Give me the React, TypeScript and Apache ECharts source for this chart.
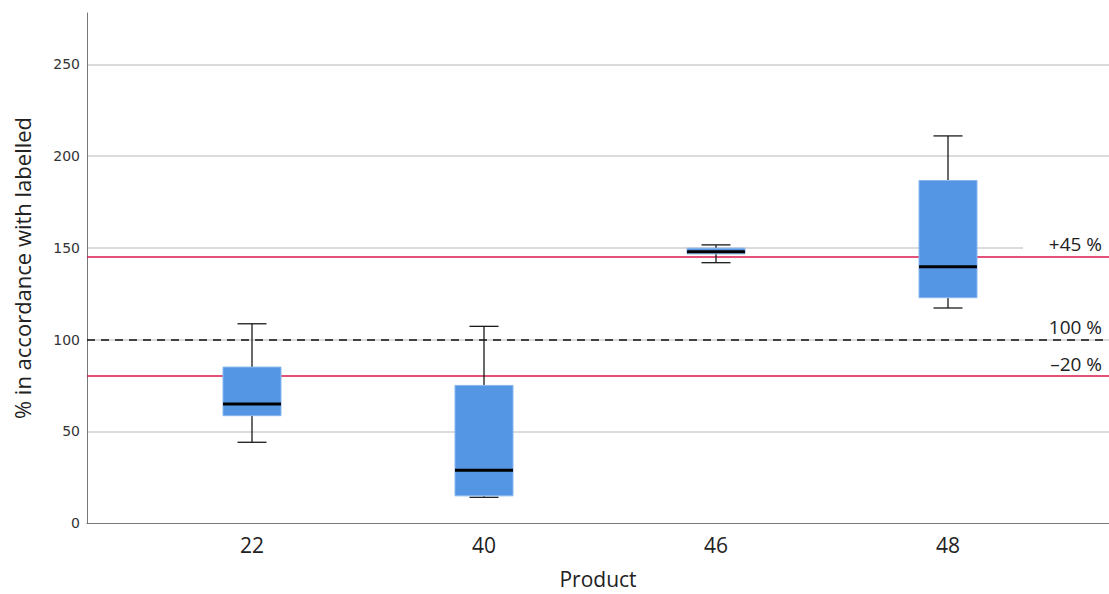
import React, { useEffect, useRef } from "react";
import * as echarts from "echarts";

const categories = ["22", "40", "46", "48"];
// [min, Q1, median, Q3, max]
const boxValues = [
  [44, 58.5, 64.8, 85, 108.6],
  [14, 14.8, 28.8, 75, 107.2],
  [141.9, 146.7, 147.8, 149.8, 151.6],
  [117.2, 122.8, 139.7, 186.7, 211],
];
const yTicks = [0, 50, 100, 150, 200, 250];
const refLines = [
  { value: 145, label: "+45 %", kind: "red" },
  { value: 100, label: "100 %", kind: "dash" },
  { value: 80, label: "–20 %", kind: "red" },
];

export default function App() {
  const ref = useRef<HTMLDivElement>(null);
  useEffect(() => {
    if (!ref.current) return;
    const chart = echarts.init(ref.current, undefined, { renderer: "svg" });
    const yMax = 278;
    const fontLabel = "'Open Sans', sans-serif";
    chart.setOption({
      animation: false,
      backgroundColor: "#ffffff",
      grid: [
        { left: 87, right: 0, top: 13, bottom: 71, containLabel: false, outerBoundsMode: "none" },
        { left: 136, right: 45, top: 13, bottom: 71, containLabel: false, outerBoundsMode: "none" },
      ],
      xAxis: [
        {
          gridIndex: 0,
          type: "value",
          min: 0,
          max: 1,
          axisLine: { show: true, lineStyle: { color: "#777", width: 1 } },
          axisTick: { show: false },
          axisLabel: { show: false },
          splitLine: { show: false },
          name: "Product",
          nameLocation: "middle",
          nameGap: 45,
          nameTextStyle: { fontSize: 21, lineHeight: 21, color: "#222", fontFamily: fontLabel },
        },
        {
          gridIndex: 1,
          type: "category",
          data: categories,
          axisLine: { show: false },
          axisTick: { show: false },
          axisLabel: { fontSize: 21, color: "#222", margin: 11, fontFamily: fontLabel },
        },
      ],
      yAxis: [
        {
          gridIndex: 0,
          type: "value",
          min: 0,
          max: yMax,
          interval: 50,
          axisLine: { show: true, lineStyle: { color: "#777", width: 1 } },
          axisTick: { show: false },
          axisLabel: {
            showMaxLabel: false,
            fontSize: 14,
            color: "#333",
            margin: 7,
            fontFamily: "'DejaVu Sans', sans-serif",
            formatter: (v: number) => (yTicks.includes(v) ? String(v) : ""),
          },
          splitLine: {
            show: true,
            showMaxLine: false,
            showMinLine: false,
            lineStyle: { color: "#cfcfcf", width: 1.5 },
          },
          name: "% in accordance with labelled",
          nameLocation: "middle",
          nameGap: 54,
          nameTextStyle: { fontSize: 22, color: "#222", fontFamily: fontLabel },
        },
        {
          gridIndex: 1,
          type: "value",
          min: 0,
          max: yMax,
          show: false,
          splitLine: { show: false },
        },
      ],
      series: [
        {
          type: "line",
          xAxisIndex: 0,
          yAxisIndex: 0,
          data: [],
          symbol: "none",
          markLine: {
            silent: true,
            symbol: "none",
            data: refLines.map((r) => ({
              yAxis: r.value,
              lineStyle:
                r.kind === "red"
                  ? { color: "#d8184b", width: 1.5, type: "solid" }
                  : { color: "#111", width: 1.5, type: [8, 6] },
              label: {
                show: true,
                position: "insideEndTop",
                formatter: r.label,
                fontSize: 19,
                color: "#222",
                fontFamily: fontLabel,
                distance: [7, 3],
              },
            })),
          },
        },
        {
          type: "custom",
          xAxisIndex: 1,
          yAxisIndex: 1,
          data: boxValues.map((b, i) => [i, ...b]),
          renderItem: (params: any, api: any) => {
            const idx = api.value(0);
            const vals = [1, 2, 3, 4, 5].map((d) => api.value(d));
            const pts = vals.map((v) => api.coord([idx, v]));
            const cx = pts[0][0];
            const ys = pts.map((p: number[]) => p[1]);
            const bw = 58;
            const cw = 29;
            const lineStyle = { stroke: "#1a1a1a", lineWidth: 1.3 };
            return {
              type: "group",
              children: [
                { type: "line", shape: { x1: cx, y1: ys[4], x2: cx, y2: ys[3] }, style: lineStyle },
                { type: "line", shape: { x1: cx, y1: ys[1], x2: cx, y2: ys[0] }, style: lineStyle },
                { type: "line", shape: { x1: cx - cw / 2, y1: ys[4], x2: cx + cw / 2, y2: ys[4] }, style: lineStyle },
                { type: "line", shape: { x1: cx - cw / 2, y1: ys[0], x2: cx + cw / 2, y2: ys[0] }, style: lineStyle },
                {
                  type: "rect",
                  shape: { x: cx - bw / 2, y: ys[3], width: bw, height: ys[1] - ys[3] },
                  style: { fill: "#5596e4", stroke: "#8ab6ee", lineWidth: 1 },
                },
                { type: "line", shape: { x1: cx - bw / 2, y1: ys[2], x2: cx + bw / 2, y2: ys[2] }, style: { stroke: "#000", lineWidth: 3 } },
              ],
            };
          },
          z: 5,
        },
      ],
      graphic: [
        {
          type: "rect",
          shape: { x: 1023, y: 246, width: 86, height: 4 },
          style: { fill: "#ffffff" },
          z: 1,
        },
      ],
    });
    return () => chart.dispose();
  }, []);
  return (
    <div
      ref={ref}
      style={{ position: "fixed", left: 0, top: 0, width: 1109, height: 594 }}
    />
  );
}
